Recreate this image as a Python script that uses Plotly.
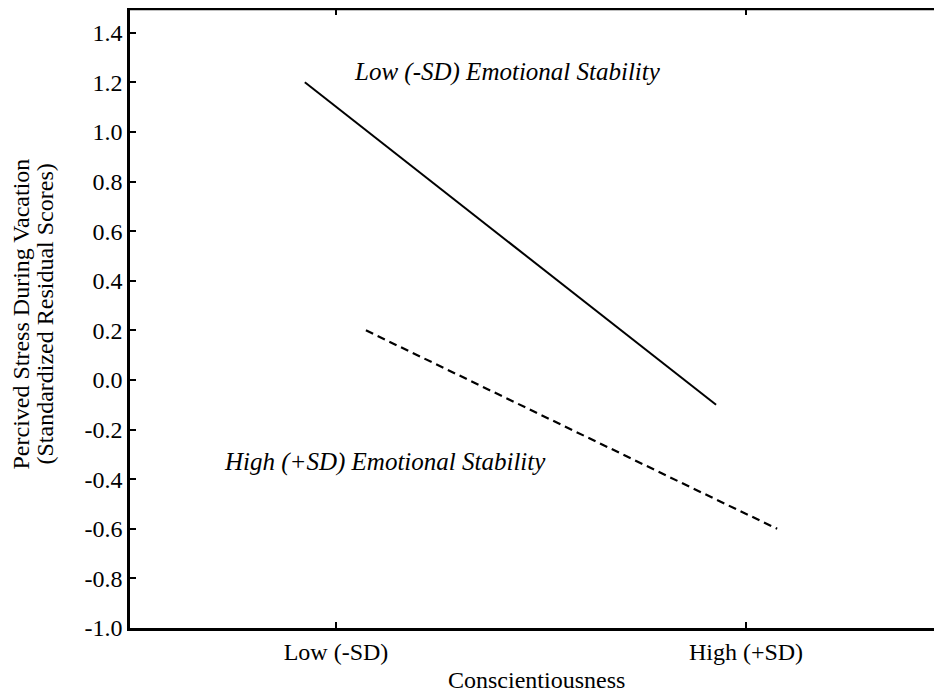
import plotly.graph_objects as go

# Data
tick_labels = ["Low (-SD)", "High (+SD)"]
tick_positions = [0, 1]

low_es_x = [-0.076, 0.927]
low_es_y = [1.20, -0.10]

high_es_x = [0.073, 0.441, 0.937, 1.076]
high_es_y = [0.20, -0.095, -0.49, -0.60]

y_ticks = [-1.0, -0.8, -0.6, -0.4, -0.2, 0.0, 0.2, 0.4, 0.6, 0.8, 1.0, 1.2, 1.4]
y_tick_labels = ["-1.0", "-0.8", "-0.6", "-0.4", "-0.2", "0.0", "0.2", "0.4", "0.6", "0.8", "1.0", "1.2", "1.4"]

y_title_lines = ["Percived Stress During Vacation", "(Standardized Residual Scores)"]
x_title = "Conscientiousness"
label_low = "Low (-SD) Emotional Stability"
label_high = "High (+SD) Emotional Stability"

FONT = "Liberation Serif"
FS = 24

fig = go.Figure()
fig.add_trace(go.Scatter(x=low_es_x, y=low_es_y, mode="lines",
                         line=dict(color="black", width=2), showlegend=False))
fig.add_trace(go.Scatter(x=high_es_x, y=high_es_y, mode="lines",
                         line=dict(color="black", width=2.2, dash="8px,5px"), showlegend=False))

fig.add_annotation(x=0.039, y=1.242, xref="x", yref="y", text="<i>" + label_low + "</i>",
                   showarrow=False, xanchor="left", yanchor="middle",
                   font=dict(family=FONT, size=25, color="black"))
fig.add_annotation(x=-0.278, y=-0.331, xref="x", yref="y", text="<i>" + label_high + "</i>",
                   showarrow=False, xanchor="left", yanchor="middle",
                   font=dict(family=FONT, size=25, color="black"))

# y-axis title lines (page x centres ~20 and ~44; plot left edge at page 130)
for line, xs in zip(y_title_lines, [-110, -86]):
    fig.add_annotation(x=0, y=0.5, xref="paper", yref="paper", text=line, textangle=-90,
                       showarrow=False, xanchor="center", yanchor="middle", xshift=xs, yshift=4,
                       font=dict(family=FONT, size=FS, color="black"))

fig.add_annotation(x=0.5, y=0, xref="x domain", yref="paper", text=x_title,
                   showarrow=False, xanchor="center", yanchor="middle", yshift=-52,
                   font=dict(family=FONT, size=FS, color="black"))

fig.update_layout(
    width=934, height=686,
    margin=dict(l=122, r=0, t=1, b=66, autoexpand=False),
    plot_bgcolor="white", paper_bgcolor="white",
    font=dict(family=FONT, size=FS, color="black"),
    xaxis=dict(range=[-0.5024, 1.478], tickvals=tick_positions, ticktext=tick_labels,
               showgrid=False, zeroline=False, showline=True, linecolor="black", linewidth=2.5,
               mirror="ticks", ticks="inside", ticklen=6, tickwidth=1.5, tickcolor="black",
               ticklabelstandoff=0, automargin=False),
    yaxis=dict(range=[-1.0, 1.4956], tickvals=y_ticks, ticktext=y_tick_labels,
               showgrid=False, zeroline=False, showline=True, linecolor="black", linewidth=2.5,
               ticks="inside", ticklen=6, tickwidth=1.5, tickcolor="black",
               ticklabelstandoff=0, automargin=False),
)
fig.add_shape(type="line", xref="paper", yref="paper", x0=0, x1=1, y0=1, y1=1,
              line=dict(color="black", width=2.5))

fig.write_html("out.html")
